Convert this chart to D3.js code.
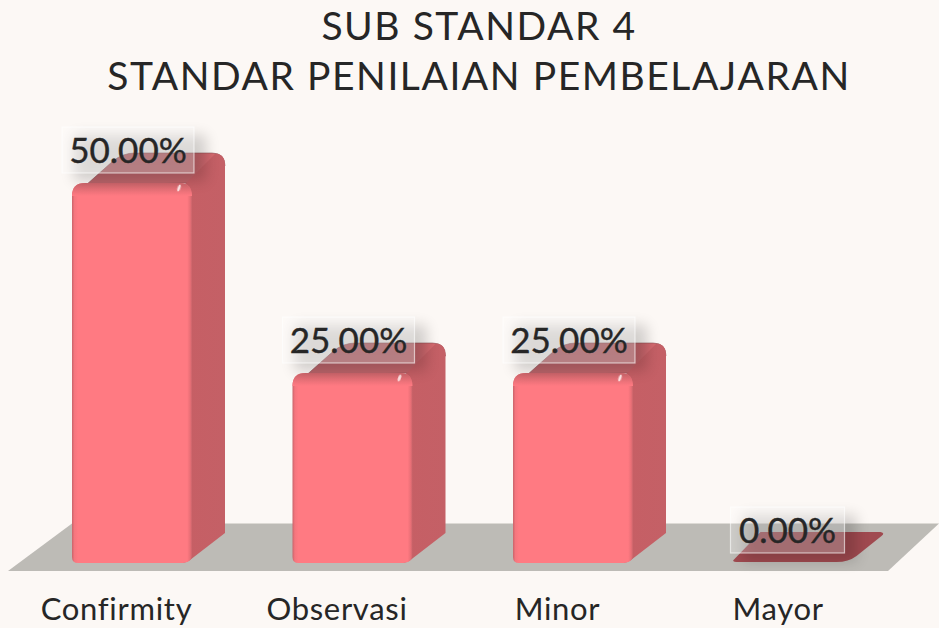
<!DOCTYPE html>
<html>
<head>
<meta charset="utf-8">
<script src="https://cdn.jsdelivr.net/npm/d3@7"></script>
<style>
html,body{margin:0;padding:0;background:#fcf8f5;}
svg{display:block;}
text{font-family:Lato,sans-serif;fill:#262626;}
</style>
</head>
<body>
<svg id="chart" width="939" height="628"></svg>
<script>
var categories = ["Confirmity", "Observasi", "Minor", "Mayor"];
var percentValues = [50, 25, 25, 0];
var titleLines = ["SUB STANDAR 4", "STANDAR PENILAIAN PEMBELAJARAN"];

var svg = d3.select("#chart");
var depthX = 33, depthY = 30, radius = 13;

var x = d3.scaleBand().domain(categories).range([72, 853.5]).paddingInner(100.5 / 220.5).paddingOuter(0);
var y = d3.scaleLinear().domain([0, 50]).range([563, 183]);

var defs = svg.append("defs");

function addGradient(id, x2, y2, stops){
    var g = defs.append("linearGradient").attr("id", id)
        .attr("x1", 0).attr("y1", 0).attr("x2", x2).attr("y2", y2);
    stops.forEach(function(s){
        g.append("stop").attr("offset", s[0]).attr("stop-color", s[1]);
    });
}
addGradient("frontH", 1, 0, [[0, "#c9646a"], [0.02, "#f5767e"], [0.05, "#ff7a82"], [0.96, "#ff7a82"], [0.985, "#e86f76"], [1, "#c9646a"]]);
addGradient("frontTop", 0, 1, [[0, "#cf666c"], [1, "#ff7a82"]]);
addGradient("topFace", 1, 0, [[0, "#b9646a"], [0.75, "#c0646a"], [1, "#e06c72"]]);
addGradient("sideFace", 1, 0, [[0, "#b85c61"], [0.2, "#c65f65"], [1, "#c46066"]]);

var blur = defs.append("filter").attr("id", "labelShadow")
    .attr("x", "-20%").attr("y", "-30%").attr("width", "140%").attr("height", "160%");
blur.append("feGaussianBlur").attr("stdDeviation", 7);

var soft = defs.append("filter").attr("id", "soft");
soft.append("feGaussianBlur").attr("stdDeviation", 0.5);

// floor
svg.append("path")
    .attr("d", d3.line()([[8, 571], [72, 523.5], [939, 523.5], [888, 571]]) + "Z")
    .attr("fill", "#bdbbb6");

function backTop(l, r, t){
    return "M" + (l + 14) + "," + (t + 2)
        + "L" + (l + depthX + 8) + "," + (t - depthY + 8)
        + "Q" + (l + depthX + 18) + "," + (t - depthY) + " " + (l + depthX + 30) + "," + (t - depthY)
        + "L" + (r + depthX - radius) + "," + (t - depthY)
        + "Q" + (r + depthX) + "," + (t - depthY) + " " + (r + depthX) + "," + (t - depthY + radius)
        + "L" + (r - 2) + "," + (t + 14)
        + "L" + (r - 2) + "," + t + "Z";
}
function sidePath(r, t, b){
    return "M" + (r - 8) + "," + (t + 2)
        + "L" + (r + depthX - 10) + "," + (t - depthY + 1)
        + "Q" + (r + depthX) + "," + (t - depthY) + " " + (r + depthX) + "," + (t - depthY + radius)
        + "L" + (r + depthX) + "," + (b - depthY)
        + "L" + (r - 2) + "," + (b - 3)
        + "Q" + (r - 6) + "," + b + " " + (r - 12) + "," + b + "Z";
}
function frontPath(l, r, t, b){
    return "M" + (l + radius) + "," + t + "L" + (r - radius) + "," + t
        + "Q" + r + "," + t + " " + r + "," + (t + radius)
        + "L" + r + "," + (b - 8) + "Q" + r + "," + b + " " + (r - 12) + "," + b
        + "L" + (l + 6) + "," + b + "Q" + l + "," + b + " " + l + "," + (b - 6)
        + "L" + l + "," + (t + radius) + "Q" + l + "," + t + " " + (l + radius) + "," + t + "Z";
}

var rows = categories.map(function(c, i){ return {cat: c, val: percentValues[i]}; });
var solid = rows.filter(function(d){ return d.val > 0; });
var flat = rows.filter(function(d){ return d.val === 0; });

// bars
var bars = svg.selectAll("g.bar").data(solid).enter().append("g").attr("class", "bar");
bars.append("path")
    .attr("d", function(d){ return backTop(x(d.cat), x(d.cat) + x.bandwidth(), y(d.val)); })
    .attr("fill", "url(#topFace)").attr("stroke", "#8f5155").attr("stroke-width", 0.6);
bars.append("path")
    .attr("d", function(d){ return sidePath(x(d.cat) + x.bandwidth(), y(d.val), y(0)); })
    .attr("fill", "url(#sideFace)");
bars.append("path")
    .attr("d", function(d){ return frontPath(x(d.cat), x(d.cat) + x.bandwidth(), y(d.val), y(0)); })
    .attr("fill", "url(#frontH)");
bars.append("path")
    .attr("d", function(d){
        var l = x(d.cat), r = l + x.bandwidth(), t = y(d.val);
        return "M" + (l + radius) + "," + t + "L" + (r - radius) + "," + t
            + "Q" + r + "," + t + " " + r + "," + (t + radius)
            + "L" + l + "," + (t + radius) + "Q" + l + "," + t + " " + (l + radius) + "," + t + "Z";
    })
    .attr("fill", "url(#frontTop)");
bars.append("ellipse")
    .attr("cx", function(d){ return x(d.cat) + x.bandwidth() - 13; })
    .attr("cy", function(d){ return y(d.val) + 5; })
    .attr("rx", 1.4).attr("ry", 3.4)
    .attr("transform", function(d){
        return "rotate(20," + (x(d.cat) + x.bandwidth() - 13) + "," + (y(d.val) + 5) + ")";
    })
    .attr("fill", "#ffe6e6").attr("filter", "url(#soft)");

// flat zero bar
svg.selectAll("path.flat").data(flat).enter().append("path")
    .attr("class", "flat")
    .attr("d", function(d){
        var l = x(d.cat) - 3, r = x(d.cat) + x.bandwidth() - 1, b = y(d.val) - 1;
        return "M" + (l + 8) + "," + b + "Q" + l + "," + b + " " + (l + 4) + "," + (b - 3)
            + "L" + (l + 30) + "," + (b - 30) + "L" + (r + 28) + "," + (b - 30)
            + "Q" + (r + 33) + "," + (b - 29) + " " + (r + 29) + "," + (b - 26)
            + "L" + (r + 4) + "," + (b - 6) + "Q" + (r - 4) + "," + b + " " + (r - 16) + "," + b + "Z";
    })
    .attr("fill", "#a04a50");

// data labels
var labels = svg.selectAll("g.label").data(rows).enter().append("g").attr("class", "label");
var labelText = function(d){ return d3.format(".2f")(d.val) + "%"; };
labels.each(function(d){
    var g = d3.select(this);
    var cx = x(d.cat) + x.bandwidth() / 2 - (d.val > 0 ? 4 : 6);
    var top = y(d.val) - 56;
    var w = d.val > 0 ? 132 : 114, h = 46;
    g.append("rect").attr("x", cx - w / 2 + 12).attr("y", top + 8).attr("width", w).attr("height", h)
        .attr("fill", "#000").attr("opacity", 0.17).attr("filter", "url(#labelShadow)");
    g.append("rect").attr("x", cx - w / 2).attr("y", top).attr("width", w).attr("height", h)
        .attr("fill", "#fff").attr("fill-opacity", 0.25)
        .attr("stroke", "#fff").attr("stroke-opacity", 0.6).attr("stroke-width", 1.2);
    g.append("text").attr("x", cx).attr("y", top + 36)
        .attr("text-anchor", "middle").attr("font-size", 35)
        .style("stroke", "#262626").style("stroke-width", 0.4)
        .text(labelText(d));
});

// category axis
var axis = d3.axisBottom(x).tickSize(0).tickPadding(0);
var axisG = svg.append("g").attr("transform", "translate(-15.5,593)").call(axis);
axisG.select(".domain").remove();
axisG.selectAll("text")
    .attr("dy", 0).attr("y", 27)
    .style("font-family", "Lato,sans-serif").style("fill", "#262626")
    .style("letter-spacing", "0.7px")
    .attr("font-size", 31);

// title
svg.selectAll("text.title").data(titleLines).enter().append("text")
    .attr("class", "title")
    .attr("x", 479)
    .attr("y", function(d, i){ return 40 + i * 50; })
    .attr("text-anchor", "middle")
    .attr("font-size", 39)
    .style("letter-spacing", "1.55px")
    .text(function(d){ return d; });
</script>
</body>
</html>
